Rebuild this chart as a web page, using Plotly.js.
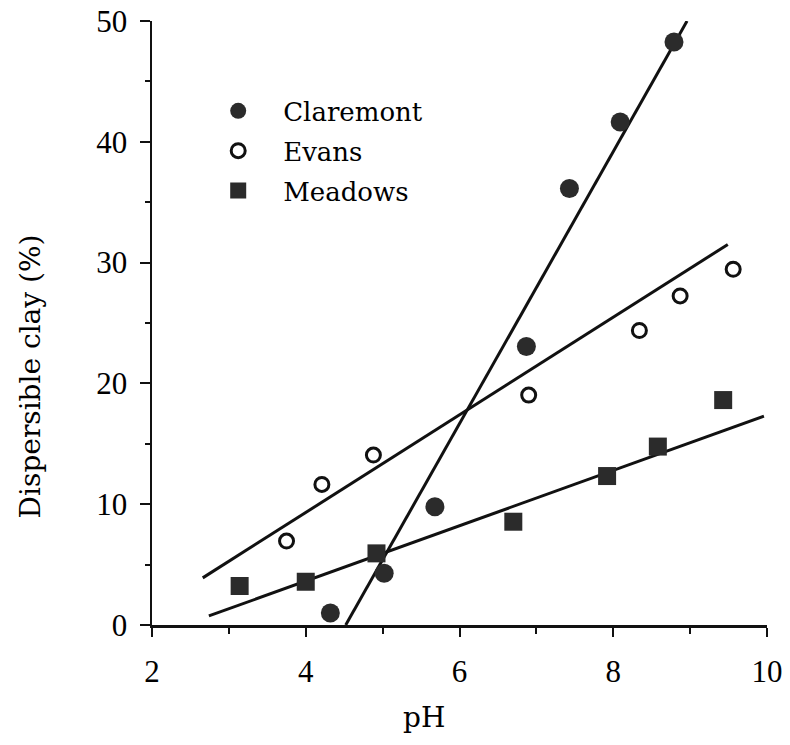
<!DOCTYPE html>
<html>
<head>
<meta charset="utf-8">
<script src="https://cdn.plot.ly/plotly-3.0.1.min.js"></script>
<style>html,body{margin:0;padding:0;background:#fff;}</style>
</head>
<body>
<div id="chart" style="width:790px;height:745px;"></div>
<script>
// Observed data (pH vs dispersible clay %)
const claremontPH   = [4.32, 5.02, 5.68, 6.87, 7.43, 8.09, 8.79];
const claremontClay = [0.99, 4.28, 9.79, 23.05, 36.13, 41.64, 48.26];
const evansPH       = [3.75, 4.21, 4.88, 6.90, 8.34, 8.87, 9.56];
const evansClay     = [6.95, 11.64, 14.07, 19.03, 24.38, 27.24, 29.45];
const meadowsPH     = [3.14, 4.00, 4.92, 6.70, 7.92, 8.58, 9.43];
const meadowsClay   = [3.23, 3.58, 5.93, 8.55, 12.33, 14.77, 18.62];

// Fitted regression lines (end points)
const claremontFitPH   = [4.52, 8.96];
const claremontFitClay = [0, 50];
const evansFitPH       = [2.66, 9.49];
const evansFitClay     = [3.9, 31.5];
const meadowsFitPH     = [2.74, 9.96];
const meadowsFitClay   = [0.75, 17.29];

const seriesNames = ['Claremont', 'Evans', 'Meadows'];
const xTickVals = [2, 4, 6, 8, 10];
const yTickVals = [0, 10, 20, 30, 40, 50];

const textFont = 'DejaVu Serif, serif';
const tickFont = 'Liberation Serif, serif';
const ink = '#111';
const fill = '#2b2b2b';

function fitLine(x, y, group) {
  return {x: x, y: y, type: 'scatter', mode: 'lines', showlegend: false,
          legendgroup: group, hoverinfo: 'skip',
          line: {color: ink, width: 3}};
}

const data = [
  fitLine(claremontFitPH, claremontFitClay, 'g1'),
  fitLine(evansFitPH, evansFitClay, 'g2'),
  fitLine(meadowsFitPH, meadowsFitClay, 'g3'),
  {x: claremontPH, y: claremontClay, name: seriesNames[0], type: 'scatter', mode: 'markers',
   legendgroup: 'g1',
   marker: {symbol: 'circle', size: 19, color: fill, line: {width: 0}}},
  {x: evansPH, y: evansClay, name: seriesNames[1], type: 'scatter', mode: 'markers',
   legendgroup: 'g2',
   marker: {symbol: 'circle-open', size: 14, color: ink, line: {width: 3, color: ink}}},
  {x: meadowsPH, y: meadowsClay, name: seriesNames[2], type: 'scatter', mode: 'markers',
   legendgroup: 'g3',
   marker: {symbol: 'square', size: 18, color: fill, line: {width: 0}}}
];

const layout = {
  width: 790, height: 745,
  margin: {l: 152, r: 23, t: 21, b: 120},
  paper_bgcolor: '#fff', plot_bgcolor: '#fff',
  showlegend: true,
  legend: {x: 0.067, y: 0.89, xanchor: 'left', yanchor: 'top',
           bgcolor: 'rgba(0,0,0,0)', borderwidth: 0,
           font: {family: textFont, size: 26, color: '#000'},
           itemwidth: 80, tracegroupgap: 3, traceorder: 'grouped'},
  xaxis: {range: [2, 10], tickvals: xTickVals, ticktext: xTickVals.map(String),
          showgrid: false, zeroline: false, showline: true, linecolor: ink, linewidth: 2.5,
          ticks: 'outside', ticklen: 9, tickwidth: 2, tickcolor: ink,
          minor: {dtick: 1, ticks: 'outside', ticklen: 6, tickwidth: 2, tickcolor: ink, showgrid: false},
          tickfont: {family: tickFont, size: 31, color: '#000'}, ticklabelstandoff: 8},
  yaxis: {range: [0, 50], tickvals: yTickVals, ticktext: yTickVals.map(String),
          showgrid: false, zeroline: false, showline: true, linecolor: ink, linewidth: 2.5,
          ticks: 'outside', ticklen: 10, tickwidth: 2, tickcolor: ink,
          minor: {dtick: 5, ticks: 'outside', ticklen: 5, tickwidth: 2, tickcolor: ink, showgrid: false},
          tickfont: {family: tickFont, size: 31, color: '#000'}, ticklabelstandoff: 6},
  annotations: [
    {text: 'pH', xref: 'paper', yref: 'paper', x: 0.442, y: -0.122, xanchor: 'center', yanchor: 'top',
     showarrow: false, font: {family: textFont, size: 28, color: '#000'}},
    {text: 'Dispersible clay (%)', xref: 'paper', yref: 'paper', x: -0.198, y: 0.412,
     xanchor: 'center', yanchor: 'middle', textangle: -90,
     showarrow: false, font: {family: textFont, size: 28, color: '#000'}}
  ]
};

Plotly.newPlot('chart', data, layout, {displayModeBar: false, staticPlot: true});
</script>
</body>
</html>
